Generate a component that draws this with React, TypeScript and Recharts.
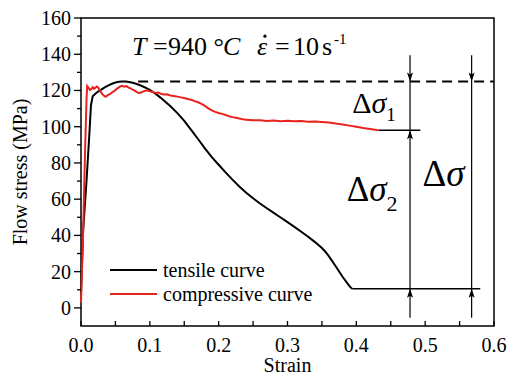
import React from 'react';
import {
  LineChart,
  Line,
  XAxis,
  YAxis,
  ReferenceLine,
  ReferenceDot,
  ReferenceArea,
  Legend,
} from 'recharts';

// strain / flow stress (MPa)
const tensile = [
  { strain: 0, stress: 8 }, { strain: 0.003, stress: 42 }, { strain: 0.008, stress: 70 },
  { strain: 0.012, stress: 95 }, { strain: 0.0145, stress: 112 }, { strain: 0.017, stress: 116.8 },
  { strain: 0.022, stress: 118.6 }, { strain: 0.026, stress: 119.6 }, { strain: 0.03, stress: 120.6 },
  { strain: 0.035, stress: 121.8 }, { strain: 0.04, stress: 122.8 }, { strain: 0.045, stress: 123.7 },
  { strain: 0.05, stress: 124.4 }, { strain: 0.055, stress: 124.8 }, { strain: 0.06, stress: 125 },
  { strain: 0.065, stress: 125 }, { strain: 0.07, stress: 124.7 }, { strain: 0.075, stress: 124.3 },
  { strain: 0.08, stress: 123.7 }, { strain: 0.085, stress: 123 }, { strain: 0.09, stress: 122.2 },
  { strain: 0.095, stress: 121.3 }, { strain: 0.1, stress: 120.3 }, { strain: 0.105, stress: 119 },
  { strain: 0.11, stress: 117.7 }, { strain: 0.115, stress: 116.2 }, { strain: 0.12, stress: 114.6 },
  { strain: 0.13, stress: 111.3 }, { strain: 0.14, stress: 107.5 }, { strain: 0.15, stress: 103.2 },
  { strain: 0.16, stress: 98.3 }, { strain: 0.17, stress: 93.2 }, { strain: 0.18, stress: 88 },
  { strain: 0.19, stress: 83.2 }, { strain: 0.2, stress: 79 }, { strain: 0.21, stress: 74.8 },
  { strain: 0.22, stress: 70.8 }, { strain: 0.23, stress: 67 }, { strain: 0.24, stress: 63.6 },
  { strain: 0.25, stress: 60.5 }, { strain: 0.26, stress: 57.6 }, { strain: 0.27, stress: 55 },
  { strain: 0.28, stress: 52.4 }, { strain: 0.29, stress: 49.9 }, { strain: 0.3, stress: 47.3 },
  { strain: 0.31, stress: 44.7 }, { strain: 0.32, stress: 42 }, { strain: 0.33, stress: 39.3 },
  { strain: 0.34, stress: 36.3 }, { strain: 0.35, stress: 33 }, { strain: 0.355, stress: 31 },
  { strain: 0.36, stress: 28.6 }, { strain: 0.37, stress: 23 }, { strain: 0.38, stress: 17.2 },
  { strain: 0.39, stress: 12 }, { strain: 0.394, stress: 10.5 },
];

const compressive = [
  { strain: 0, stress: 3 }, { strain: 0.003, stress: 40 }, { strain: 0.006, stress: 88 },
  { strain: 0.008, stress: 115 }, { strain: 0.009, stress: 122.5 }, { strain: 0.011, stress: 121.5 },
  { strain: 0.013, stress: 120.2 }, { strain: 0.015, stress: 120.8 }, { strain: 0.017, stress: 121.8 },
  { strain: 0.019, stress: 120.9 }, { strain: 0.021, stress: 121.6 }, { strain: 0.023, stress: 122.2 },
  { strain: 0.025, stress: 121.5 }, { strain: 0.027, stress: 120.3 }, { strain: 0.029, stress: 119 },
  { strain: 0.031, stress: 118 }, { strain: 0.033, stress: 117.2 }, { strain: 0.035, stress: 116.6 },
  { strain: 0.037, stress: 116.8 }, { strain: 0.039, stress: 117.4 }, { strain: 0.041, stress: 117.9 },
  { strain: 0.043, stress: 118.3 }, { strain: 0.045, stress: 118.9 }, { strain: 0.048, stress: 119.6 },
  { strain: 0.051, stress: 120.6 }, { strain: 0.054, stress: 121.4 }, { strain: 0.057, stress: 122.2 },
  { strain: 0.06, stress: 122.6 }, { strain: 0.063, stress: 122.1 }, { strain: 0.066, stress: 122.4 },
  { strain: 0.069, stress: 121.6 }, { strain: 0.072, stress: 121.2 }, { strain: 0.075, stress: 120.4 },
  { strain: 0.078, stress: 119.9 }, { strain: 0.081, stress: 119.1 }, { strain: 0.084, stress: 118.6 },
  { strain: 0.087, stress: 118.9 }, { strain: 0.09, stress: 119.4 }, { strain: 0.093, stress: 119.8 },
  { strain: 0.096, stress: 120.1 }, { strain: 0.1, stress: 119.6 }, { strain: 0.104, stress: 119.2 },
  { strain: 0.108, stress: 118.6 }, { strain: 0.112, stress: 118.9 }, { strain: 0.116, stress: 118.2 },
  { strain: 0.12, stress: 117.8 }, { strain: 0.125, stress: 117.9 }, { strain: 0.13, stress: 117.2 },
  { strain: 0.135, stress: 116.9 }, { strain: 0.14, stress: 116.6 }, { strain: 0.145, stress: 116.2 },
  { strain: 0.15, stress: 115.8 }, { strain: 0.155, stress: 115.3 }, { strain: 0.16, stress: 114.9 },
  { strain: 0.165, stress: 114.1 }, { strain: 0.17, stress: 113.5 }, { strain: 0.175, stress: 112.6 },
  { strain: 0.18, stress: 111.5 }, { strain: 0.185, stress: 110.1 }, { strain: 0.19, stress: 109 },
  { strain: 0.195, stress: 108.2 }, { strain: 0.2, stress: 107.6 }, { strain: 0.205, stress: 107.1 },
  { strain: 0.21, stress: 106.5 }, { strain: 0.215, stress: 105.8 }, { strain: 0.22, stress: 105.3 },
  { strain: 0.225, stress: 104.9 }, { strain: 0.23, stress: 104.5 }, { strain: 0.235, stress: 104.1 },
  { strain: 0.24, stress: 103.9 }, { strain: 0.245, stress: 103.7 }, { strain: 0.25, stress: 103.5 },
  { strain: 0.26, stress: 103.6 }, { strain: 0.27, stress: 103.2 }, { strain: 0.28, stress: 103.4 },
  { strain: 0.29, stress: 103 }, { strain: 0.3, stress: 103.3 }, { strain: 0.31, stress: 103 },
  { strain: 0.32, stress: 103.1 }, { strain: 0.33, stress: 102.8 }, { strain: 0.34, stress: 102.9 },
  { strain: 0.35, stress: 102.6 }, { strain: 0.36, stress: 102.3 }, { strain: 0.37, stress: 101.8 },
  { strain: 0.38, stress: 101.2 }, { strain: 0.39, stress: 100.6 }, { strain: 0.4, stress: 100 },
  { strain: 0.41, stress: 99.3 }, { strain: 0.42, stress: 98.7 }, { strain: 0.432, stress: 98 },
];

const seriesNames = ['tensile curve', 'compressive curve'];
const xMajor = [0, 0.1, 0.2, 0.3, 0.4, 0.5, 0.6];
const xMinor = [0.05, 0.15, 0.25, 0.35, 0.45, 0.55];
const yMajor = [0, 20, 40, 60, 80, 100, 120, 140, 160];
const yMinor = [10, 30, 50, 70, 90, 110, 130, 150];

// annotation levels (MPa) and dimension line positions (strain)
const peakStress = 125;
const compEndStress = 98;
const tensileEndStress = 10.5;
const dimLineX = [0.478, 0.5675];

const FONT = 'Liberation Serif';
const RED = '#e8221c';

const XTick = (props: any) => {
  const { x, y, payload } = props;
  const major = xMajor.includes(payload.value);
  return (
    <g>
      <line x1={x} x2={x} y1={y} y2={y - 5} stroke="#000" strokeWidth={1.3} />
      {major && (
        <text x={x} y={y + 26} textAnchor="middle" fontSize={20} fill="#000" fontFamily={FONT}>
          {payload.value.toFixed(1)}
        </text>
      )}
    </g>
  );
};

const YTick = (props: any) => {
  const { x, y, payload } = props;
  const major = yMajor.includes(payload.value);
  return (
    <g>
      <line x1={x} x2={x - (major ? 7 : 4)} y1={y} y2={y} stroke="#000" strokeWidth={1.3} />
      {major && (
        <text x={x - 10} y={y} dy="0.35em" textAnchor="end" fontSize={20} fill="#000" fontFamily={FONT}>
          {payload.value}
        </text>
      )}
    </g>
  );
};

const arrowDown = (p: any) => (
  <path d={`M${p.cx},${p.cy} L${p.cx - 3},${p.cy - 9} L${p.cx},${p.cy - 7} L${p.cx + 3},${p.cy - 9} Z`} fill="#000" />
);
const arrowUp = (p: any) => (
  <path d={`M${p.cx},${p.cy} L${p.cx - 3},${p.cy + 9} L${p.cx},${p.cy + 7} L${p.cx + 3},${p.cy + 9} Z`} fill="#000" />
);

const deltaLabel = (size: number, sub: string, subSize: number, subDy: number) => (p: any) => (
  <text x={p.cx} y={p.cy} fontSize={size} fill="#000" fontFamily={FONT}>
    <tspan>Δ</tspan>
    <tspan fontStyle="italic">σ</tspan>
    {sub && (
      <tspan fontSize={subSize} dy={subDy}>
        {sub}
      </tspan>
    )}
  </text>
);

const conditionLabel = (p: any) => {
  const { cx, cy } = p;
  return (
    <g fontFamily={FONT} fontSize={26} fill="#000">
      <text x={cx} y={cy} fontStyle="italic">T</text>
      <text x={cx + 21} y={cy}>=</text>
      <text x={cx + 36} y={cy}>940 °</text>
      <text x={cx + 91} y={cy} fontStyle="italic">C</text>
      <text x={cx + 125} y={cy} fontStyle="italic">ε</text>
      <circle cx={cx + 133} cy={cy - 19} r={1.6} fill="#000" />
      <text x={cx + 143} y={cy}>=</text>
      <text x={cx + 161} y={cy}>10</text>
      <text x={cx + 190} y={cy}>s</text>
      <text x={cx + 202} y={cy - 11} fontSize={15}>-1</text>
    </g>
  );
};

const LegendBox = ({ payload }: any) => {
  const items = [...(payload || [])].sort((a: any, b: any) => seriesNames.indexOf(a.value) - seriesNames.indexOf(b.value));
  return (
    <div style={{ fontFamily: FONT, fontSize: 20, color: '#000' }}>
      {items.map((item: any) => (
        <div key={item.value} style={{ display: 'flex', alignItems: 'center', height: 24 }}>
          <svg width={47} height={24}>
            <line x1={0} x2={47} y1={12} y2={12} stroke={item.color} strokeWidth={2} />
          </svg>
          <span style={{ marginLeft: 6 }}>{item.value}</span>
        </div>
      ))}
    </div>
  );
};

export default function App() {
  return (
    <div style={{ position: 'absolute', left: 0, top: 0, width: 507, height: 378, background: '#fff', fontFamily: FONT }}>
      <LineChart width={507} height={378} margin={{ top: 18, right: 13, bottom: 0, left: 0 }}>
        <XAxis
          dataKey="strain"
          type="number"
          domain={[0, 0.6]}
          ticks={[...xMajor, ...xMinor].sort((a, b) => a - b)}
          interval={0}
          height={52}
          tickSize={0}
          tickMargin={0}
          axisLine={false}
          tick={<XTick />}
          label={{ value: 'Strain', position: 'insideBottom', offset: 6, fontSize: 20, fill: '#000', fontFamily: FONT }}
        />
        <YAxis
          type="number"
          domain={[-10, 160]}
          ticks={[...yMajor, ...yMinor].sort((a, b) => a - b)}
          interval={0}
          width={81}
          tickSize={0}
          tickMargin={0}
          axisLine={false}
          tick={<YTick />}
          label={{
            value: 'Flow stress (MPa)',
            angle: -90,
            position: 'insideLeft',
            offset: 20,
            fontSize: 20,
            fill: '#000',
            fontFamily: FONT,
            style: { textAnchor: 'middle' },
          }}
        />
        <ReferenceArea x1={0} x2={0.6} y1={-10} y2={160} fill="none" fillOpacity={0} stroke="#000" strokeWidth={1.5} />

        <ReferenceLine segment={[{ x: 0.083, y: peakStress }, { x: 0.6, y: peakStress }]} stroke="#000" strokeWidth={2} strokeDasharray="10 6" />
        <ReferenceLine segment={[{ x: 0.432, y: compEndStress }, { x: 0.493, y: compEndStress }]} stroke="#000" strokeWidth={1.5} />
        <ReferenceLine segment={[{ x: 0.394, y: tensileEndStress }, { x: 0.58, y: tensileEndStress }]} stroke="#000" strokeWidth={1.5} />
        {dimLineX.map((x) => (
          <ReferenceLine key={x} segment={[{ x, y: 139.5 }, { x, y: -5.5 }]} stroke="#000" strokeWidth={1.2} />
        ))}
        {dimLineX.map((x) => (
          <ReferenceDot key={'d' + x} x={x} y={peakStress} shape={arrowDown} />
        ))}
        {dimLineX.map((x) => (
          <ReferenceDot key={'u' + x} x={x} y={tensileEndStress} shape={arrowUp} />
        ))}
        <ReferenceDot x={dimLineX[0]} y={compEndStress} shape={arrowUp} />

        <ReferenceDot x={0.074} y={139.5} shape={conditionLabel} />
        <ReferenceDot x={0.394} y={107.4} shape={deltaLabel(30, '1', 19, 8)} />
        <ReferenceDot x={0.386} y={59.2} shape={deltaLabel(35, '2', 22, 10)} />
        <ReferenceDot x={0.496} y={67} shape={deltaLabel(37, '', 0, 0)} />

        <Line data={tensile} dataKey="stress" name={seriesNames[0]} stroke="#000" strokeWidth={2} dot={false} isAnimationActive={false} />
        <Line data={compressive} dataKey="stress" name={seriesNames[1]} stroke={RED} strokeWidth={2} dot={false} isAnimationActive={false} />

        <Legend
          layout="vertical"
          align="center"
          verticalAlign="middle"
          content={<LegendBox />}
          wrapperStyle={{ left: 110, top: 258, width: 240 }}
        />
      </LineChart>
    </div>
  );
}
